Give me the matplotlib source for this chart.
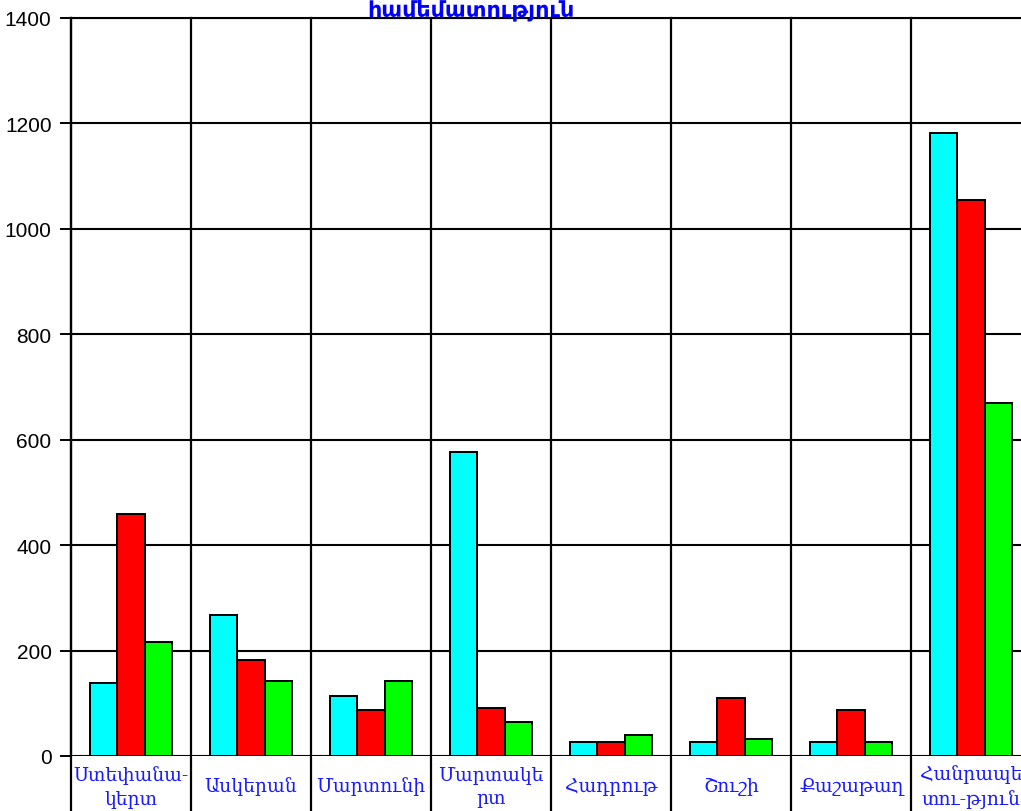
import numpy as np
import matplotlib
matplotlib.use("Agg")
import matplotlib.pyplot as plt

regions = ["Ստեփանա-\nկերտ", "Ասկերան", "Մարտունի", "Մարտակե\nրտ",
           "Հադրութ", "Շուշի", "Քաշաթաղ", "Հանրապե\nտու-թյուն"]
series_a = [138, 268, 113, 577, 26, 26, 26, 1182]   # cyan
series_b = [460, 183, 88, 91, 26, 110, 88, 1054]    # red
series_c = [216, 143, 143, 64, 39, 33, 26, 670]     # green
yticks = [0, 200, 400, 600, 800, 1000, 1200, 1400]
title = "համեմատություն"

fig = plt.figure(figsize=(10.21, 8.12), dpi=100)
ax = fig.add_axes([71 / 1021, 55 / 812, 960 / 1021, 738 / 812])

x = np.arange(len(regions))
w = 0.228
for off, vals, col in ((-w, series_a, "#00ffff"), (0, series_b, "#ff0000"),
                       (w, series_c, "#00ff00")):
    ax.bar(x + off, vals, width=w, color=col, edgecolor="black",
           linewidth=1.4, zorder=3)

ax.set_xlim(-0.5, len(regions) - 0.5)
ax.set_ylim(0, 1400)
ax.set_yticks(yticks)
ax.set_yticklabels([str(v) for v in yticks], family="Liberation Sans",
                   fontsize=15)
ax.tick_params(axis="y", length=8, width=1.4, pad=6)
ax.set_xticks([])
ax.grid(axis="y", color="black", linewidth=1.5, zorder=0)
ax.set_axisbelow(True)
for sp in ("top", "right", "bottom"):
    ax.spines[sp].set_visible(False)
ax.spines["left"].set_linewidth(1.6)

# category separators run down through the label band
for b in np.arange(0.5, len(regions) - 0.5, 1.0):
    ax.axvline(b, ymin=-0.08, ymax=1, color="black", linewidth=1.6,
               clip_on=False, zorder=2)
ax.axvline(-0.5, ymin=-0.08, ymax=1, color="black", linewidth=1.6,
           clip_on=False, zorder=2)
ax.axhline(0, color="black", linewidth=1.8, zorder=4)
ax.axhline(1400, color="black", linewidth=1.5, zorder=0, clip_on=False)

for i, name in enumerate(regions):
    ax.text(i, -57, name, ha="center", va="center", color="#1a1aff",
            family="DejaVu Serif", fontsize=13.5, linespacing=1.4)

fig.text(471 / 1021, 1 - 16 / 812, title, ha="center", va="baseline",
         color="#0000ff", fontsize=16, fontweight="bold",
         family="DejaVu Sans")

fig.savefig("out.png", dpi=100)
